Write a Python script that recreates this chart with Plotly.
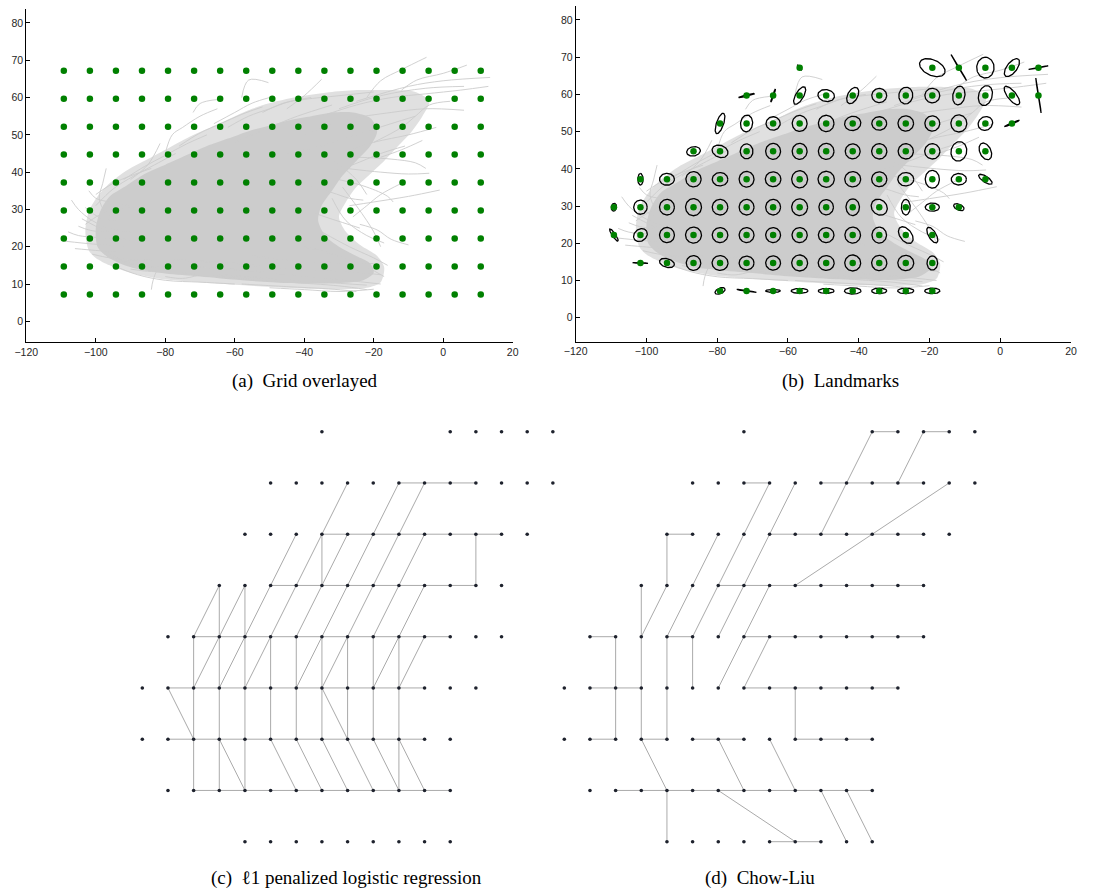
import numpy as np
import plotly.graph_objects as go

# ---------------------------------------------------------------- data
GRID_X = [-109.2, -101.7, -94.2, -86.7, -79.2, -71.7, -64.2, -56.7, -49.2,
          -41.7, -34.2, -26.7, -19.2, -11.7, -4.2, 3.3, 10.8]
GRID_Y = [7.2, 14.7, 22.2, 29.7, 37.2, 44.7, 52.2, 59.7, 67.2]

# landmarks: grid column, grid row, ellipse semi-axes (a, b) and angle (deg)
LM_COL = [7, 12, 13, 14, 15, 16,
          5, 6, 7, 8, 9, 10, 11, 12, 13, 14, 15, 16,
          4, 5, 6, 7, 8, 9, 10, 11, 12, 13, 14, 15,
          3, 4, 5, 6, 7, 8, 9, 10, 11, 12, 13, 14,
          1, 2, 3, 4, 5, 6, 7, 8, 9, 10, 11, 12, 13, 14,
          0, 1, 2, 3, 4, 5, 6, 7, 8, 9, 10, 11, 12, 13,
          0, 1, 2, 3, 4, 5, 6, 7, 8, 9, 10, 11, 12,
          1, 2, 3, 4, 5, 6, 7, 8, 9, 10, 11, 12,
          4, 5, 6, 7, 8, 9, 10, 11, 12]
LM_ROW = [8] * 6 + [7] * 12 + [6] * 12 + [5] * 12 + [4] * 14 + [3] * 14 + [2] * 13 + [1] * 12 + [0] * 9
LM_A = [0.9, 3.8, 4.1, 2.8, 2.9, 2.8,
        2.3, 1.9, 2.7, 2.35, 2.4, 2.1, 2.25, 2.1, 2.55, 2.75, 3.1, 4.75,
        2.9, 2.25, 2.0, 2.15, 2.2, 2.3, 2.1, 2.2, 2.1, 2.3, 2.1, 2.3,
        1.95, 2.3, 2.0, 2.15, 2.15, 2.2, 2.1, 2.15, 2.15, 2.15, 2.65, 2.4,
        1.55, 2.1, 2.15, 2.2, 2.1, 2.2, 2.3, 2.3, 2.25, 2.15, 2.25, 2.4, 2.15, 2.2,
        1.05, 1.9, 2.1, 2.3, 2.2, 2.1, 2.1, 2.25, 2.05, 2.25, 2.4, 2.1, 2.0, 1.55,
        2.0, 2.05, 2.1, 2.25, 2.2, 2.1, 2.1, 2.15, 2.2, 2.2, 2.15, 2.6, 2.4,
        2.15, 2.15, 2.05, 2.25, 2.1, 2.1, 2.25, 2.25, 2.25, 2.15, 2.25, 1.9,
        1.5, 2.8, 2.1, 2.4, 2.25, 2.35, 2.15, 2.3, 2.15]
LM_B = [0.25, 2.1, 0.08, 2.45, 1.4, 0.08,
        0.2, 0.15, 1.1, 1.6, 1.4, 1.9, 1.95, 1.95, 1.7, 1.9, 1.2, 0.08,
        1.0, 1.7, 1.8, 2.1, 2.2, 1.9, 1.8, 2.05, 2.05, 2.25, 1.8, 0.15,
        1.25, 1.6, 1.8, 2.1, 2.1, 2.15, 2.0, 2.05, 2.05, 2.05, 2.2, 1.55,
        0.75, 1.6, 2.05, 1.8, 2.1, 2.0, 2.25, 2.15, 2.05, 2.0, 1.8, 2.0, 1.55, 0.8,
        0.75, 1.9, 2.1, 2.25, 2.1, 2.1, 2.1, 2.25, 2.05, 1.9, 2.0, 1.25, 1.1, 0.8,
        0.45, 1.6, 2.05, 2.15, 2.0, 2.0, 2.0, 2.0, 2.0, 2.15, 2.05, 1.6, 1.05,
        0.1, 1.15, 2.0, 2.0, 1.85, 1.9, 2.15, 2.0, 2.15, 2.05, 2.05, 1.5,
        0.75, 0.1, 0.4, 0.65, 0.65, 0.85, 0.75, 0.75, 0.75]
LM_ANG = [-50, -22, -58, 90, 50, 10,
          13, 70, 58, -8, 60, 0, 80, 0, 78, 72, -50, -81,
          70, 82, 0, 90, 0, 10, 0, 0, 0, 90, 25, 22,
          10, -18, 90, 90, 90, 0, 0, 0, 0, 0, 75, -62,
          90, 0, 0, 0, 0, 0, 90, 0, 0, 0, 0, 90, 0, -32,
          80, 0, 0, 90, 0, 0, 0, 0, 0, 90, -35, 90, 0, -22,
          -55, 30, 0, 0, 0, 0, 0, 0, 0, 0, 90, -50, -58,
          -3, -15, 0, 0, 0, 0, 0, 0, 0, 0, 0, 90,
          22, -8, 0, 0, 0, 0, 0, 0, 0]

# dense part of the trajectory cloud (outer envelope and solid core)
CLOUD_OUTER_X = [-102, -103, -102, -99.5, -96, -91, -85, -79, -73, -67, -61, -55, -48,
                 -40, -32, -24, -16, -8, -4, -6, -9, -13, -17, -21, -25, -28, -30, -28,
                 -24, -19, -17, -18, -22, -32, -45, -60, -72, -82, -90, -96, -100]
CLOUD_OUTER_Y = [19, 24, 29.5, 33.5, 37, 40.5, 43.5, 46.5, 49.5, 52, 54.5, 57, 59,
                 60.5, 61.5, 62, 62, 61.5, 59, 55, 51, 47, 43, 39.5, 36, 32, 28, 24,
                 20.5, 17.5, 14.5, 10.5, 9, 8.6, 9, 9.8, 10.6, 11.5, 13, 15, 17]
CLOUD_CORE_X = [-99.5, -100, -98.5, -96, -91, -86, -80, -74, -68, -62, -56, -50, -44,
                -38, -32, -26, -21, -19, -21, -25, -29, -32, -35, -36, -34, -30, -25,
                -21, -20, -23, -32, -45, -58, -70, -80, -88, -93, -97]
CLOUD_CORE_Y = [20, 25, 30, 33.5, 36.5, 39.5, 42, 44.5, 47, 49, 51, 52.5, 54,
                55, 56, 56, 54.5, 51, 47, 43, 39, 35, 31, 27, 23, 20, 17.5,
                15.5, 13, 11, 10.2, 10.3, 11, 12, 12.8, 14, 15.5, 17.5]

# individual trajectories standing out of the cloud
TRAJ = [
    [(-107, 32.5), (-105, 30), (-101, 27), (-96, 25), (-90, 24)],
    [(-108, 24), (-105, 23), (-100, 22.5), (-94, 22), (-88, 22.5)],
    [(-109, 21.5), (-104, 21), (-98, 20.5), (-92, 20)],
    [(-106, 19.5), (-100, 19), (-93, 18.5)],
    [(-104, 27.5), (-100, 25.5), (-95, 23.5), (-88, 21)],
    [(-97, 41), (-98, 37), (-99, 33), (-97, 29), (-92, 27)],
    [(-102, 35), (-100, 33), (-96, 32), (-90, 31)],
    [(-97, 19), (-93, 16.5), (-88, 15), (-82, 14.5)],
    [(-90, 14), (-86, 13.5), (-81, 13.2)],
    [(-84, 8.5), (-83.5, 11), (-82, 14), (-78, 16)],
    [(-80, 12), (-75, 11.5), (-70, 12.5)],
    [(-75, 13), (-60, 11.5), (-45, 10.5), (-30, 9.5), (-22, 8.5)],
    [(-70, 14.5), (-55, 13.5), (-40, 12), (-28, 11), (-18, 10)],
    [(-78, 16.5), (-60, 15.5), (-45, 14), (-30, 13.5), (-18, 12.5)],
    [(-65, 12.5), (-50, 11.5), (-35, 10.5), (-22, 9.7)],
    [(-58, 10), (-45, 9.3), (-33, 8.7), (-25, 8)],
    [(-55, 17.5), (-40, 16), (-30, 15.5), (-20, 15.5)],
    [(-40, 20), (-30, 17.5), (-22, 14.5), (-17, 12)],
    [(-35, 24), (-27, 20), (-20, 17), (-16, 15)],
    [(-32, 33), (-28, 27), (-22, 23), (-17, 21)],
    [(-29, 36), (-25, 31), (-22, 27), (-20, 24), (-18, 20)],
    [(-27, 31), (-20, 32), (-10, 33.5), (-1, 35.2)],
    [(-30, 38), (-22, 36), (-16, 33.5), (-14.4, 32)],
    [(-28, 41), (-18, 40), (-10, 39.5), (-4, 39.7)],
    [(-25, 44), (-15, 43.5), (-8, 42.5), (-5, 41)],
    [(-30, 45), (-20, 48), (-10, 50), (-2, 52)],
    [(-40, 50), (-28, 54), (-15, 56), (-5, 57), (6, 56.6)],
    [(-35, 55), (-25, 58), (-15, 60), (-5, 61), (5, 62), (13, 63)],
    [(-30, 57), (-18, 60.5), (-5, 62.5), (6, 63)],
    [(-25, 59), (-10, 63), (0, 64.5), (13.5, 65.4)],
    [(-22, 60), (-18, 64.5), (-12, 67.5), (-4.8, 70.8)],
    [(-12, 62), (-7.6, 64.7), (0, 66.5), (6.8, 68.7)],
    [(-45, 57), (-40, 60.5), (-35, 64.9)],
    [(-58, 60), (-56, 64.7), (-50.3, 64)],
    [(-72, 56), (-70, 58.4), (-64.7, 59.5)],
    [(-80, 45), (-78, 50), (-75, 52), (-70, 55), (-65, 57)],
    [(-90, 38), (-85, 42), (-81.5, 47.7)],
    [(-100, 34), (-95, 37), (-90, 39), (-84, 41)],
    [(-20, 48), (-12, 52), (-8, 55), (-4, 58), (2, 59)],
    [(-18, 44), (-12, 46), (-6, 48.5)],
    [(-45, 45), (-35, 47), (-25, 50), (-15, 53), (-8, 55)],
    [(-60, 48), (-50, 52), (-42, 55), (-32, 58)],
    [(-26, 28), (-22, 31), (-18, 34), (-12, 37)],
    [(-24, 26), (-19, 24.5), (-15, 22), (-10, 20.5)],
    [(-33, 40), (-26, 42), (-18, 45), (-11, 47)],
    [(-66, 53), (-60, 56), (-55, 58.5), (-50, 60)],
    [(-52, 56), (-46, 58.5), (-40, 59.5), (-30, 60.5), (-20, 61.5)],
    [(-100, 31), (-95, 35.5), (-89, 39), (-83, 42), (-77, 45)],
    [(-92, 38), (-86, 41.5), (-80, 44.5), (-74, 47.5), (-68, 50)],
    [(-76, 47), (-70, 50.5), (-64, 53), (-58, 55.5), (-52, 57.5)],
    [(-62, 52), (-56, 55), (-50, 57), (-44, 59), (-38, 60)],
    [(-36, 45), (-30, 42), (-25, 38), (-22, 34)],
    [(-40, 30), (-34, 28), (-29, 26.5), (-24, 25)],
    [(-38, 36), (-32, 34.5), (-27, 33), (-23, 32.5)],
    [(-95, 15), (-88, 12.5), (-80, 11), (-70, 10.5), (-60, 10)],
    [(-50, 9), (-40, 8.5), (-30, 8), (-20, 8.6)],
    [(-103, 26), (-99, 28.5), (-95, 30), (-89, 30.5)],
    [(-101, 18), (-96, 17), (-90, 16.5), (-84, 16.5)],
    [(-105, 25.5), (-102, 24.5), (-98, 24), (-93, 24.5)],
    [(-103, 30.5), (-101, 29), (-98, 27.5), (-94, 27)],
]

# graph (c): runs of horizontal / vertical grid edges and diagonal edges
C_HRUNS = [(7, 10, 13), (6, 7, 14), (5, 5, 13), (4, 2, 12), (3, 1, 11), (2, 1, 11), (1, 2, 12)]
C_VRUNS = [(2, 1, 4), (3, 1, 5), (4, 1, 5), (5, 2, 4), (6, 2, 4), (7, 5, 6),
           (7, 2, 4), (8, 2, 4), (9, 2, 4), (10, 1, 4), (13, 5, 6)]
C_DIAG = [(2, 4, 3, 5), (2, 3, 3, 4), (3, 4, 4, 5),
          (3, 3, 4, 4), (4, 4, 5, 5), (5, 5, 6, 6),
          (4, 3, 5, 4), (5, 4, 6, 5), (6, 5, 7, 6), (7, 6, 8, 7),
          (6, 4, 7, 5), (7, 5, 8, 6),
          (6, 3, 7, 4), (7, 4, 8, 5), (8, 5, 9, 6), (9, 6, 10, 7),
          (7, 3, 8, 4), (8, 4, 9, 5), (9, 5, 10, 6), (10, 6, 11, 7),
          (9, 4, 10, 5), (10, 5, 11, 6),
          (9, 3, 10, 4), (10, 4, 11, 5),
          (10, 3, 11, 4),
          (1, 3, 2, 2), (7, 3, 8, 2),
          (3, 2, 4, 1), (5, 2, 6, 1), (6, 2, 7, 1), (7, 2, 8, 1), (8, 2, 9, 1),
          (9, 2, 10, 1), (10, 2, 11, 1)]

# graph (d): Chow-Liu tree
D_HRUNS = [(8, 12, 13), (8, 14, 15), (7, 7, 8), (7, 10, 14), (6, 4, 5), (6, 8, 14),
           (5, 6, 14), (4, 1, 2), (4, 4, 5), (4, 7, 14), (3, 1, 3), (3, 7, 13),
           (2, 1, 2), (2, 3, 4), (2, 5, 7), (2, 9, 12), (1, 2, 12), (0, 8, 10)]
D_VRUNS = [(2, 2, 4), (3, 2, 5), (4, 2, 4), (4, 5, 6), (5, 3, 4), (9, 2, 3), (4, 0, 1)]
D_DIAG = [(11, 7, 12, 8), (10, 6, 11, 7), (13, 7, 14, 8), (9, 5, 15, 7),
          (7, 6, 8, 7), (6, 5, 7, 6), (5, 4, 6, 5),
          (8, 6, 9, 7), (7, 5, 8, 6), (6, 4, 7, 5),
          (5, 5, 6, 6), (4, 4, 5, 5), (3, 4, 4, 5),
          (6, 3, 7, 4), (7, 4, 8, 5), (7, 3, 8, 4),
          (3, 2, 4, 1), (6, 2, 7, 1), (8, 2, 9, 1),
          (6, 1, 9, 0), (10, 1, 11, 0), (11, 1, 12, 0)]

X_TICKS = [-120, -100, -80, -60, -40, -20, 0, 20]
Y_TICKS = [0, 10, 20, 30, 40, 50, 60, 70, 80]

CAPTIONS = ["(a)\u2002Grid overlayed", "(b)\u2002Landmarks",
            "(c)\u2002\u21131 penalized logistic regression", "(d)\u2002Chow-Liu"]

# ---------------------------------------------------------------- helpers
W, H = 1110, 895
GREEN = "rgb(0,128,0)"
TRAJ_GREY = "rgb(204,204,204)"


def px_x(p):
    return p / W


def px_y(p):
    return 1 - p / H


def edge_segments(hruns, vruns, diag):
    xs, ys = [], []
    for r, c0, c1 in hruns:
        xs += [GRID_X[c0], GRID_X[c1], None]
        ys += [GRID_Y[r], GRID_Y[r], None]
    for c, r0, r1 in vruns:
        xs += [GRID_X[c], GRID_X[c], None]
        ys += [GRID_Y[r0], GRID_Y[r1], None]
    for c0, r0, c1, r1 in diag:
        xs += [GRID_X[c0], GRID_X[c1], None]
        ys += [GRID_Y[r0], GRID_Y[r1], None]
    return xs, ys


fig = go.Figure()

# ------------------------------------------------ panels (a) and (b)
lm_x = [GRID_X[c] for c in LM_COL]
lm_y = [GRID_Y[r] for r in LM_ROW]
gx = [x for _ in GRID_Y for x in GRID_X]
gy = [y for y in GRID_Y for _ in GRID_X]

for xa, ya in (("x", "y"), ("x2", "y2")):
    fig.add_trace(go.Scatter(x=CLOUD_OUTER_X + [CLOUD_OUTER_X[0]],
                             y=CLOUD_OUTER_Y + [CLOUD_OUTER_Y[0]],
                             mode="lines", fill="toself",
                             line=dict(width=0, shape="spline", smoothing=0.8),
                             fillcolor="rgba(204,204,204,0.6)", xaxis=xa, yaxis=ya,
                             hoverinfo="skip"))
    fig.add_trace(go.Scatter(x=CLOUD_CORE_X + [CLOUD_CORE_X[0]],
                             y=CLOUD_CORE_Y + [CLOUD_CORE_Y[0]],
                             mode="lines", fill="toself",
                             line=dict(width=0, shape="spline", smoothing=0.8),
                             fillcolor=TRAJ_GREY, xaxis=xa, yaxis=ya, hoverinfo="skip"))
    for tr in TRAJ:
        fig.add_trace(go.Scatter(x=[p[0] for p in tr], y=[p[1] for p in tr], mode="lines",
                                 line=dict(color=TRAJ_GREY, width=0.9, shape="spline"),
                                 xaxis=xa, yaxis=ya, hoverinfo="skip"))

# grid points in (a)
fig.add_trace(go.Scatter(x=gx, y=gy, mode="markers",
                         marker=dict(color=GREEN, size=6.5, line=dict(width=0)),
                         xaxis="x", yaxis="y"))

# landmark covariance ellipses in (b)
t = np.linspace(0, 2 * np.pi, 73)
ex, ey = [], []
for cx, cy, a, b, ang in zip(lm_x, lm_y, LM_A, LM_B, LM_ANG):
    th = np.deg2rad(ang)
    ux = a * np.cos(t)
    uy = b * np.sin(t)
    ex += list(cx + ux * np.cos(th) - uy * np.sin(th)) + [None]
    ey += list(cy + ux * np.sin(th) + uy * np.cos(th)) + [None]
fig.add_trace(go.Scatter(x=ex, y=ey, mode="lines", line=dict(color="black", width=1.3),
                         xaxis="x2", yaxis="y2", connectgaps=False))
fig.add_trace(go.Scatter(x=lm_x, y=lm_y, mode="markers",
                         marker=dict(color=GREEN, size=6.5, line=dict(width=0)),
                         xaxis="x2", yaxis="y2"))

# ------------------------------------------------ panels (c) and (d)
for (hr, vr, dg), xa, ya in (((C_HRUNS, C_VRUNS, C_DIAG), "x3", "y3"),
                             ((D_HRUNS, D_VRUNS, D_DIAG), "x4", "y4")):
    sx, sy = edge_segments(hr, vr, dg)
    fig.add_trace(go.Scatter(x=sx, y=sy, mode="lines",
                             line=dict(color="rgb(170,170,170)", width=1),
                             xaxis=xa, yaxis=ya))
    fig.add_trace(go.Scatter(x=lm_x, y=lm_y, mode="markers",
                             marker=dict(color="rgb(30,34,45)", size=3.6, line=dict(width=0)),
                             xaxis=xa, yaxis=ya))

# ------------------------------------------------ axes
tick_font = dict(family="Liberation Sans, Arial, sans-serif", size=10.5, color="#262626")
axis_common = dict(showgrid=False, zeroline=False, showline=True, linecolor="black",
                   linewidth=1, ticks="inside", ticklen=4, tickwidth=1, tickcolor="black",
                   tickfont=tick_font, mirror=False, automargin=False)
hidden = dict(visible=False, showgrid=False, zeroline=False, automargin=False)

fig.update_layout(
    width=W, height=H, margin=dict(l=0, r=0, t=0, b=0, pad=0, autoexpand=False),
    paper_bgcolor="white", plot_bgcolor="rgba(0,0,0,0)", showlegend=False,
    xaxis=dict(domain=[px_x(26.3), px_x(512.7)], range=[-120, 20], tickvals=X_TICKS,
               anchor="y", **axis_common),
    yaxis=dict(domain=[px_y(342), px_y(9.3)], range=[-5.55, 83.67], tickvals=Y_TICKS,
               anchor="x", **axis_common),
    xaxis2=dict(domain=[px_x(575.7), px_x(1071)], range=[-120, 20], tickvals=X_TICKS,
                anchor="y2", **axis_common),
    yaxis2=dict(domain=[px_y(341.7), px_y(6)], range=[-6.45, 83.76], tickvals=Y_TICKS,
                anchor="x2", **axis_common),
    xaxis3=dict(domain=[px_x(137.86), px_x(556.97)], range=[-110.5, 12], anchor="y3", **hidden),
    yaxis3=dict(domain=[px_y(856.73), px_y(412.57)], range=[5, 70], anchor="x3", **hidden),
    xaxis4=dict(domain=[px_x(559.86), px_x(978.97)], range=[-110.5, 12], anchor="y4", **hidden),
    yaxis4=dict(domain=[px_y(856.73), px_y(412.57)], range=[5, 70], anchor="x4", **hidden),
)

cap_font = dict(family="Liberation Serif, DejaVu Serif, Times New Roman, serif",
                size=19, color="black")
for text, cx, cy in zip(CAPTIONS, [305, 840, 346, 760], [381, 381, 878, 878]):
    fig.add_annotation(text=text, x=px_x(cx), y=px_y(cy), xref="paper", yref="paper",
                       showarrow=False, xanchor="center", yanchor="middle", font=cap_font)

fig.write_html("out.html")
